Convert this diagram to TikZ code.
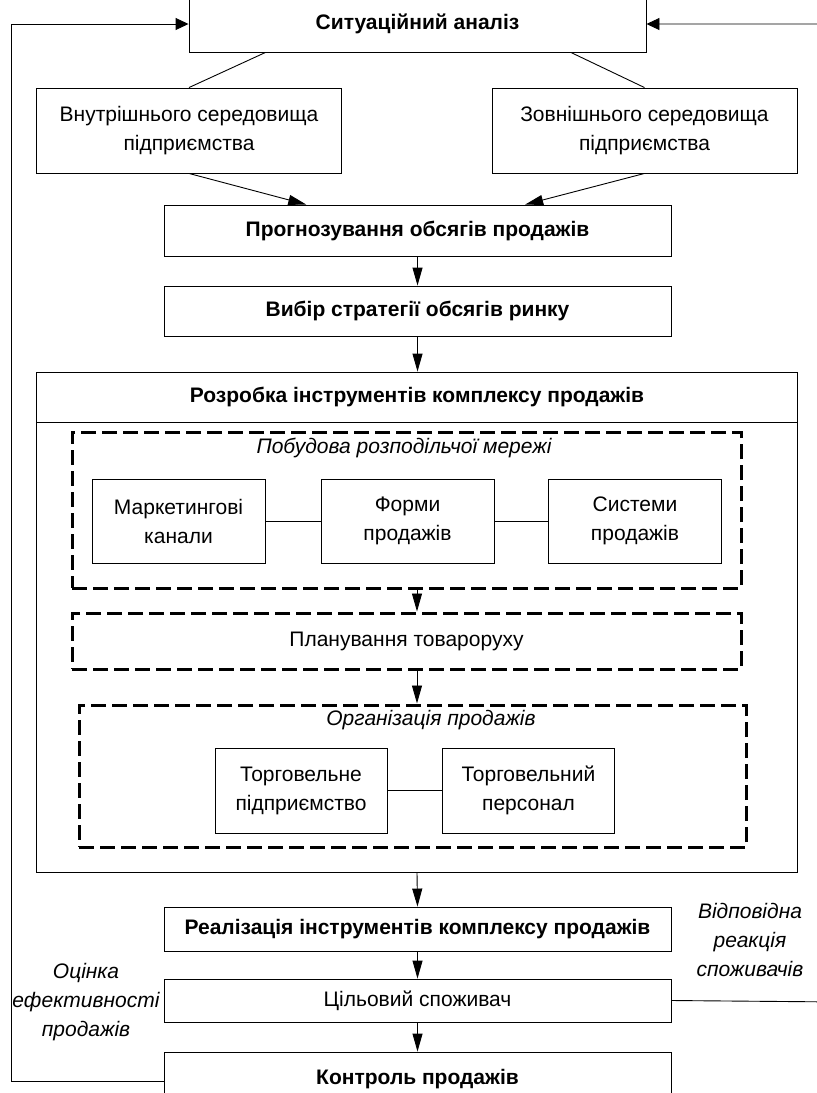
\documentclass[tikz,border=0pt]{standalone}
\usepackage{fontspec}
\setmainfont{Liberation Sans}
\usetikzlibrary{arrows.meta,calc}
\begin{document}
\begin{tikzpicture}[x=1pt,y=-1pt,
  box/.style={draw=black, line width=0.9pt, fill=white, inner sep=0pt, align=center,
              font=\fontsize{21}{29}\selectfont},
  bbox/.style={box, font=\fontsize{21}{24}\selectfont\bfseries},
  dbox/.style={draw=black, line width=3pt, dash pattern=on 15pt off 6pt, inner sep=0pt},
  title/.style={inner sep=0pt, font=\fontsize{21}{24}\selectfont\itshape},
  link/.style={line width=0.9pt},
  varr/.style={line width=0.9pt, -{Triangle[length=18pt,width=10pt]}},
  harr/.style={line width=0.9pt, -{Triangle[length=13pt,width=12pt]}},
  note/.style={inner sep=0pt, align=center, font=\fontsize{21}{29}\selectfont\itshape}
]
\clip (0,0) rectangle (817,1093);
\fill[white] (0,0) rectangle (817,1093);

% analysis stage
\node[bbox, minimum width=457, minimum height=56] (sit) at (417.5,24) {Ситуаційний аналіз};
\node[box, minimum width=305, minimum height=85] (inner) at (189,130.5) {Внутрішнього середовища\\підприємства};
\node[box, minimum width=305, minimum height=85] (outer) at (644.5,130.5) {Зовнішнього середовища\\підприємства};
\draw[link] ($(sit.south west)!0.168!(sit.south east)$) -- (inner.north);
\draw[link] ($(sit.south west)!0.835!(sit.south east)$) -- (outer.north);

\node[bbox, minimum width=507, minimum height=51] (prog) at (417.5,230.5) {Прогнозування обсягів продажів};
\draw[varr] (inner.south) -- ($(prog.north west)!0.281!(prog.north east)$);
\draw[varr] (outer.south) -- ($(prog.north west)!0.712!(prog.north east)$);

\node[bbox, minimum width=507, minimum height=50] (vyb) at (417.5,311) {Вибір стратегії обсягів ринку};
\draw[varr] (prog.south) -- (vyb.north);

% sales complex development
\node[draw=black, line width=0.9pt, minimum width=760.5, minimum height=500, inner sep=0pt] (dev) at (417,622) {};
\node[bbox, minimum width=760.5, minimum height=50, anchor=north] (devh) at (dev.north) {Розробка інструментів комплексу продажів};
\draw[varr] (vyb.south) -- (vyb.south |- devh.north);

\node[dbox, minimum width=669, minimum height=156] (net) at (406.5,510) {};
\node[title] (netT) at (404,448) {Побудова розподільчої мережі};
\node[box, minimum width=173, minimum height=84] (mk) at (178.5,521) {Маркетингові\\канали};
\node[box, minimum width=173, minimum height=84] (fm) at (407.5,521) {Форми\\продажів};
\node[box, minimum width=173, minimum height=84] (sy) at (635,521) {Системи\\продажів};
\draw[link] (mk) -- (fm);
\draw[link] (fm) -- (sy);

\node[dbox, minimum width=669, minimum height=56, font=\fontsize{21}{24}\selectfont] (plan) at (406.5,641) {Планування товароруху};
\draw[varr] (net.south -| devh.north) -- (plan.north -| devh.north);

\node[dbox, minimum width=667, minimum height=142] (org) at (412.5,776) {};
\node[title] (orgT) at (431,720) {Організація продажів};
\node[box, minimum width=172, minimum height=85] (tp) at (301,790.5) {Торговельне\\підприємство};
\node[box, minimum width=172, minimum height=85] (pers) at (528.5,790.5) {Торговельний\\персонал};
\draw[link] (tp) -- (pers);
\draw[varr] (plan.south -| devh.north) -- (org.north -| devh.north);

% implementation and control
\node[bbox, minimum width=507, minimum height=44] (real) at (417.5,929) {Реалізація інструментів комплексу продажів};
\draw[varr] (dev.south) -- (real.north);
\node[box, minimum width=507, minimum height=43] (ciel) at (417.5,1000.5) {Цільовий споживач};
\draw[varr] (real.south) -- (ciel.north);
\node[bbox, minimum width=507, minimum height=54] (kon) at (417.5,1079) {Контроль продажів};
\draw[varr] (ciel.south) -- (kon.north);

% feedback loops
\coordinate (fbL) at (11.5,1081);
\coordinate (fbR) at (840,1002);
\draw[harr] ($(kon.west)+(0,2)$) -- (fbL) |- (sit.west);
\draw[harr] (ciel.east) -- (fbR) |- (sit.east);

\node[note] (resp) at (750,940) {Відповідна\\реакція\\споживачів};
\node[note] (eval) at (86,1002) {Оцінка\\ефективності\\продажів};
\end{tikzpicture}
\end{document}
